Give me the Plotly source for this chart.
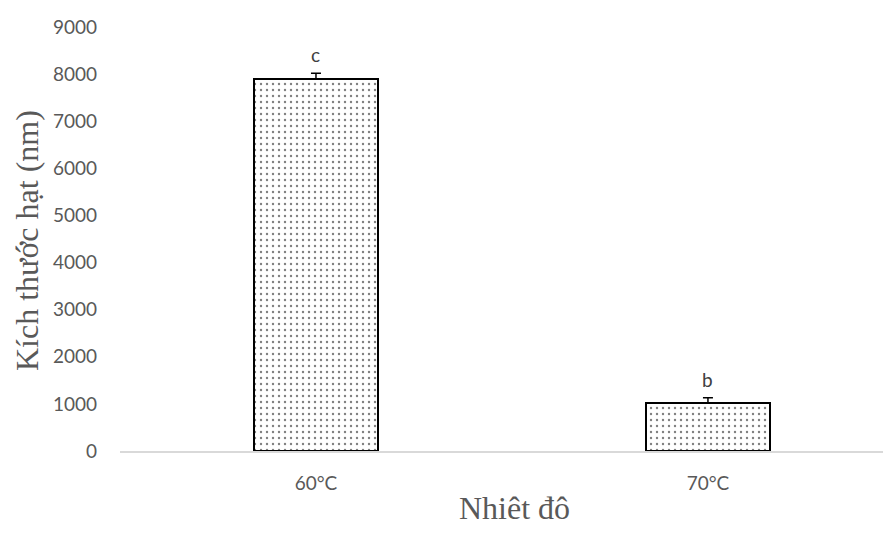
import plotly.graph_objects as go

categories = ["60°C", "70°C"]
values = [7900, 1020]
errors = [120, 110]
letters = ["c", "b"]
y_ticks = [0, 1000, 2000, 3000, 4000, 5000, 6000, 7000, 8000, 9000]

fig = go.Figure()
fig.add_trace(go.Bar(
    x=categories, y=values, width=0.316,
    marker=dict(color="white",
                line=dict(color="black", width=2),
                pattern=dict(shape=".", fgcolor="black", bgcolor="white", size=6, solidity=0.12, fillmode="overlay")),
    error_y=dict(type="data", symmetric=False, array=errors, arrayminus=[0] * len(errors),
                 visible=True, color="black", thickness=1.5, width=5),
    showlegend=False,
))

annotations = [
    dict(x=c, y=v + e, text=t, xref="x", yref="y", showarrow=False, yanchor="bottom", yshift=5,
         font=dict(family="Lato", size=19, color="#404040"))
    for c, v, e, t in zip(categories, values, errors, letters)
]
annotations += [
    dict(text="Nhiêt đô", xref="paper", yref="paper", x=(515 - 120) / 771, y=-(508 - 451) / 424,
         xanchor="center", yanchor="middle", showarrow=False,
         font=dict(family="Liberation Serif", size=32, color="#595959")),
    dict(text="Kích thước hạt (nm)", xref="paper", yref="paper", x=-(120 - 27) / 771, y=(451 - 241) / 424,
         xanchor="center", yanchor="middle", showarrow=False, textangle=-90,
         font=dict(family="Liberation Serif", size=32, color="#595959")),
]

fig.update_layout(
    width=883, height=527,
    margin=dict(l=112, r=0, t=19, b=84),
    paper_bgcolor="white", plot_bgcolor="white",
    bargap=0,
    annotations=annotations,
)
fig.update_xaxes(
    range=[-0.5, 1.467], showline=True, linecolor="#d9d9d9", linewidth=1.5, automargin=False,
    ticks="", tickfont=dict(family="Lato", size=19, color="#595959"), ticklabelstandoff=14,
)
fig.update_yaxes(
    range=[0, 9000], tickvals=y_ticks, showgrid=False, zeroline=False, showline=False, automargin=False,
    ticks="", tickfont=dict(family="Lato", size=19, color="#595959"), ticklabelstandoff=22,
)
fig.write_html("out.html")
